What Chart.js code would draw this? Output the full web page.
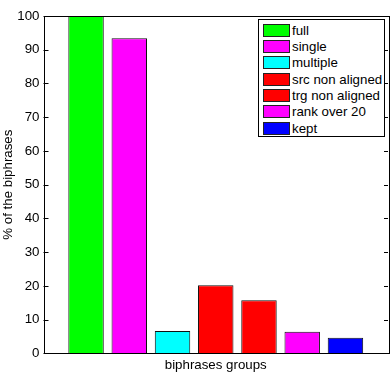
<!DOCTYPE html>
<html>
<head>
<meta charset="utf-8">
<script src="https://cdn.jsdelivr.net/npm/chart.js@4"></script>
<style>
    html, body { margin: 0; padding: 0; background: #fff; }
    #wrap { position: relative; width: 391px; height: 380px; }
    #legend {
        position: absolute; left: 258px; top: 19px; width: 125px; height: 114px;
        border: 1px solid #000; background: #fff; box-sizing: content-box;
        font-family: "Liberation Sans", Arial, sans-serif; font-size: 13.3px; color: #000;
        padding-top: 2px;
    }
    .leg-row { display: flex; align-items: center; height: 16.33px; white-space: nowrap; }
    .leg-swatch { width: 25px; height: 11px; margin-left: 4px; margin-right: 2px; border: 1px solid #222; flex: none; }
</style>
</head>
<body>
<div id="wrap">
    <canvas id="chart" width="391" height="380"></canvas>
    <div id="legend"></div>
</div>
<script>
// biphrase groups, one bar each
var groupNames = ['full', 'single', 'multiple', 'src non aligned', 'trg non aligned', 'rank over 20', 'kept'];
var groupValues = [100, 93.4, 6.6, 20.2, 15.7, 6.4, 4.6];
var groupColors = ['#00ff00', '#ff00ff', '#00ffff', '#ff0000', '#ff0000', '#ff00ff', '#0000ff'];
var yTicks = [0, 10, 20, 30, 40, 50, 60, 70, 80, 90, 100];

var FONT = '"Liberation Sans", Arial, sans-serif';

// matlab style box + inward ticks
var boxPlugin = {
    id: 'boxPlugin',
    afterDraw(chart) {
        var ctx = chart.ctx;
        var a = chart.chartArea;
        var y = chart.scales.y;
        ctx.save();
        ctx.strokeStyle = '#000';
        ctx.lineWidth = 1;
        ctx.strokeRect(Math.round(a.left) + 0.5, Math.round(a.top) + 0.5,
            Math.round(a.right - a.left), Math.round(a.bottom - a.top));
        yTicks.forEach(v => {
            var py = Math.round(y.getPixelForValue(v)) + 0.5;
            ctx.beginPath();
            ctx.moveTo(a.left, py); ctx.lineTo(a.left + 5, py);
            ctx.moveTo(a.right - 4, py); ctx.lineTo(a.right, py);
            ctx.stroke();
        });
        ctx.restore();
    }
};

var datasets = groupNames.map((name, i) => ({
    label: name,
    data: [groupValues[i]],
    backgroundColor: groupColors[i],
    borderColor: '#111',
    borderWidth: 1,
    categoryPercentage: 0.8785,
    barPercentage: 0.82
}));

new Chart(document.getElementById('chart').getContext('2d'), {
    type: 'bar',
    data: { labels: [''], datasets: datasets },
    options: {
        responsive: false,
        animation: false,
        layout: { padding: { top: 16, right: 3, left: 0, bottom: 0 } },
        plugins: {
            legend: { display: false },
            tooltip: { enabled: false }
        },
        scales: {
            x: {
                grid: { display: false, drawTicks: false },
                border: { display: false },
                ticks: { display: false },
                title: {
                    display: true, text: 'biphrases groups', color: '#000',
                    font: { family: FONT, size: 13.3 }, padding: { top: 0, bottom: 7 }
                },
                afterFit(scale) { scale.height = 26.7; }
            },
            y: {
                min: 0, max: 100,
                afterBuildTicks(scale) { scale.ticks = yTicks.map(v => ({ value: v })); },
                grid: { display: false, drawTicks: false },
                border: { display: false },
                ticks: { color: '#000', padding: 4, font: { family: FONT, size: 13.3 } },
                title: {
                    display: true, text: '% of the biphrases', color: '#000',
                    font: { family: FONT, size: 13.3 }, padding: 0
                },
                afterFit(scale) { scale.width = 43.5; }
            }
        }
    },
    plugins: [boxPlugin]
});

var legend = document.getElementById('legend');
groupNames.forEach((name, i) => {
    var row = document.createElement('div');
    row.className = 'leg-row';
    row.innerHTML = `<span class="leg-swatch" style="background:${groupColors[i]}"></span><span>${name}</span>`;
    legend.appendChild(row);
});
</script>
</body>
</html>
